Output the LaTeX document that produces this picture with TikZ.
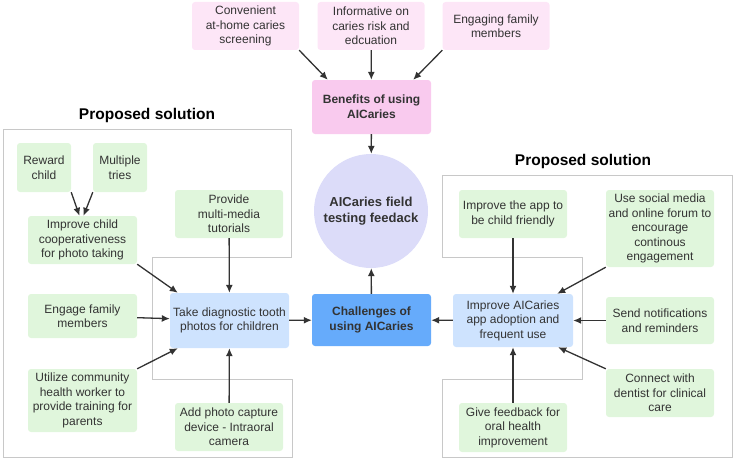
\documentclass[tikz,border=0pt]{standalone}
\usepackage{fontspec}
\setmainfont{Liberation Sans}
\usepackage{tikz}
\usetikzlibrary{arrows.meta, positioning, calc}

\definecolor{txtgray}{HTML}{333333}
\definecolor{ideagreen}{HTML}{E0F6DC}
\definecolor{perkpink}{HTML}{FDE6F7}
\definecolor{benefitpink}{HTML}{F9CAEE}
\definecolor{goalblue}{HTML}{CEE3FE}
\definecolor{coreblue}{HTML}{66ABFB}
\definecolor{hubviolet}{HTML}{DCDCF9}
\definecolor{framegray}{HTML}{C8C8C8}

\begin{document}
\begin{tikzpicture}[
  x=1pt, y=-1pt,
  every node/.style={font=\fontsize{12}{14.5}\selectfont, text=txtgray, align=center, inner sep=0pt},
  card/.style 2 args={rounded corners=3pt, minimum width=#1pt, minimum height=#2pt},
  idea/.style={fill=ideagreen},
  perk/.style={fill=perkpink},
  benefit/.style={fill=benefitpink, font=\fontsize{12}{14.7}\selectfont\bfseries},
  goal/.style={fill=goalblue},
  core/.style={fill=coreblue, font=\fontsize{12}{14.7}\selectfont\bfseries},
  hub/.style={circle, fill=hubviolet, minimum size=114pt, font=\fontsize{13}{15.7}\selectfont\bfseries},
  title/.style={font=\fontsize{15.5}{18}\selectfont\bfseries, text=black},
  frame/.style={draw=framegray, line width=0.8pt},
  arr/.style={-{Latex[length=8pt, width=7pt]}, line width=1.3pt, draw=txtgray, fill=txtgray},
]
  \useasboundingbox (0,0) rectangle (733,460);

  % Solution frames
  \draw[frame] (3,129) -- (291,129) -- (291,257) -- (152,257) -- (152,379)
    -- (292,379) -- (292,457) -- (3,457) -- cycle;
  \draw[frame] (442,175) -- (732,175) -- (732,457) -- (442,457) -- (442,379)
    -- (582,379) -- (582,257) -- (442,257) -- cycle;
  \node[title] (ltitle) at (147,115) {Proposed solution};
  \node[title] (rtitle) at (583,161) {Proposed solution};

  % Center column
  \node[perk, card={107}{48}] (conv) at (245.5,26) {Convenient\\at-home caries\\screening};
  \node[perk, card={107}{48}] (info) at (371,26) {Informative on\\caries risk and\\edcuation};
  \node[perk, card={107}{48}] (famb) at (496,26) {Engaging family\\members};
  \node[benefit, card={119}{54}] (benefits) at (371.5,107) {Benefits of using\\AICaries};
  \node[hub] (hub) at (371,211) {AICaries field\\testing feedack};
  \node[core, card={119}{52}] (challenges) at (371.5,320) {Challenges of\\using AICaries};

  % Left solution
  \node[idea, card={54}{49}] (reward) at (44,167.5) {Reward\\child};
  \node[idea, card={54}{49}] (tries) at (120,167.5) {Multiple\\tries};
  \node[idea, card={109}{48}] (coop) at (82.5,240) {Improve child\\cooperativeness\\for photo taking};
  \node[idea, card={108}{48}] (media) at (229,214) {Provide\\multi-media\\tutorials};
  \node[idea, card={109}{44}] (family) at (82.5,316) {Engage family\\members};
  \node[goal, card={119}{55}] (photos) at (229.5,320.5) {Take diagnostic tooth\\photos for children};
  \node[idea, card={109}{63}] (worker) at (82.5,400.5) {Utilize community\\health worker to\\provide training for\\parents};
  \node[idea, card={108}{48}] (device) at (229,427) {Add photo capture\\device - Intraoral\\camera};

  % Right solution
  \node[idea, card={108}{48}] (friendly) at (513,214) {Improve the app to\\be child friendly};
  \node[idea, card={108}{77}] (social) at (660,228.5) {Use social media\\and online forum to\\encourage\\continous\\engagement};
  \node[goal, card={120}{53}] (adopt) at (513,320.5) {Improve AICaries\\app adoption and\\frequent use};
  \node[idea, card={108}{47}] (notify) at (660,320.5) {Send notifications\\and reminders};
  \node[idea, card={108}{48}] (dentist) at (660,393) {Connect with\\dentist for clinical\\care};
  \node[idea, card={108}{49}] (feedback) at (513,427.5) {Give feedback for\\oral health\\improvement};

  % Arrows into the center
  \draw[arr] (conv.south east) -- ([xshift=16]benefits.north west);
  \draw[arr] (info) -- (benefits);
  \draw[arr] (famb.south west) -- ([xshift=-18]benefits.north east);
  \draw[arr] (benefits) -- (hub);
  \draw[arr] (challenges) -- (hub);
  \draw[arr] (photos) -- (challenges);
  \draw[arr] (adopt) -- (challenges);

  % Left arrows
  \draw[arr] (reward.south east) -- ([xshift=-3]coop.north);
  \draw[arr] (tries.south west) -- ([xshift=1]coop.north);
  \draw[arr] (coop.south east) -- ([xshift=8]photos.north west);
  \draw[arr] (media) -- (photos);
  \draw[arr] (family) -- (photos);
  \draw[arr] (worker.north east) -- ([xshift=8]photos.south west);
  \draw[arr] (device) -- (photos);

  % Right arrows
  \draw[arr] (friendly) -- (adopt);
  \draw[arr] (social.south west) -- ([xshift=-16]adopt.north east);
  \draw[arr] (notify) -- (adopt);
  \draw[arr] (dentist.north west) -- ([xshift=-15]adopt.south east);
  \draw[arr] (feedback) -- (adopt);
\end{tikzpicture}
\end{document}
